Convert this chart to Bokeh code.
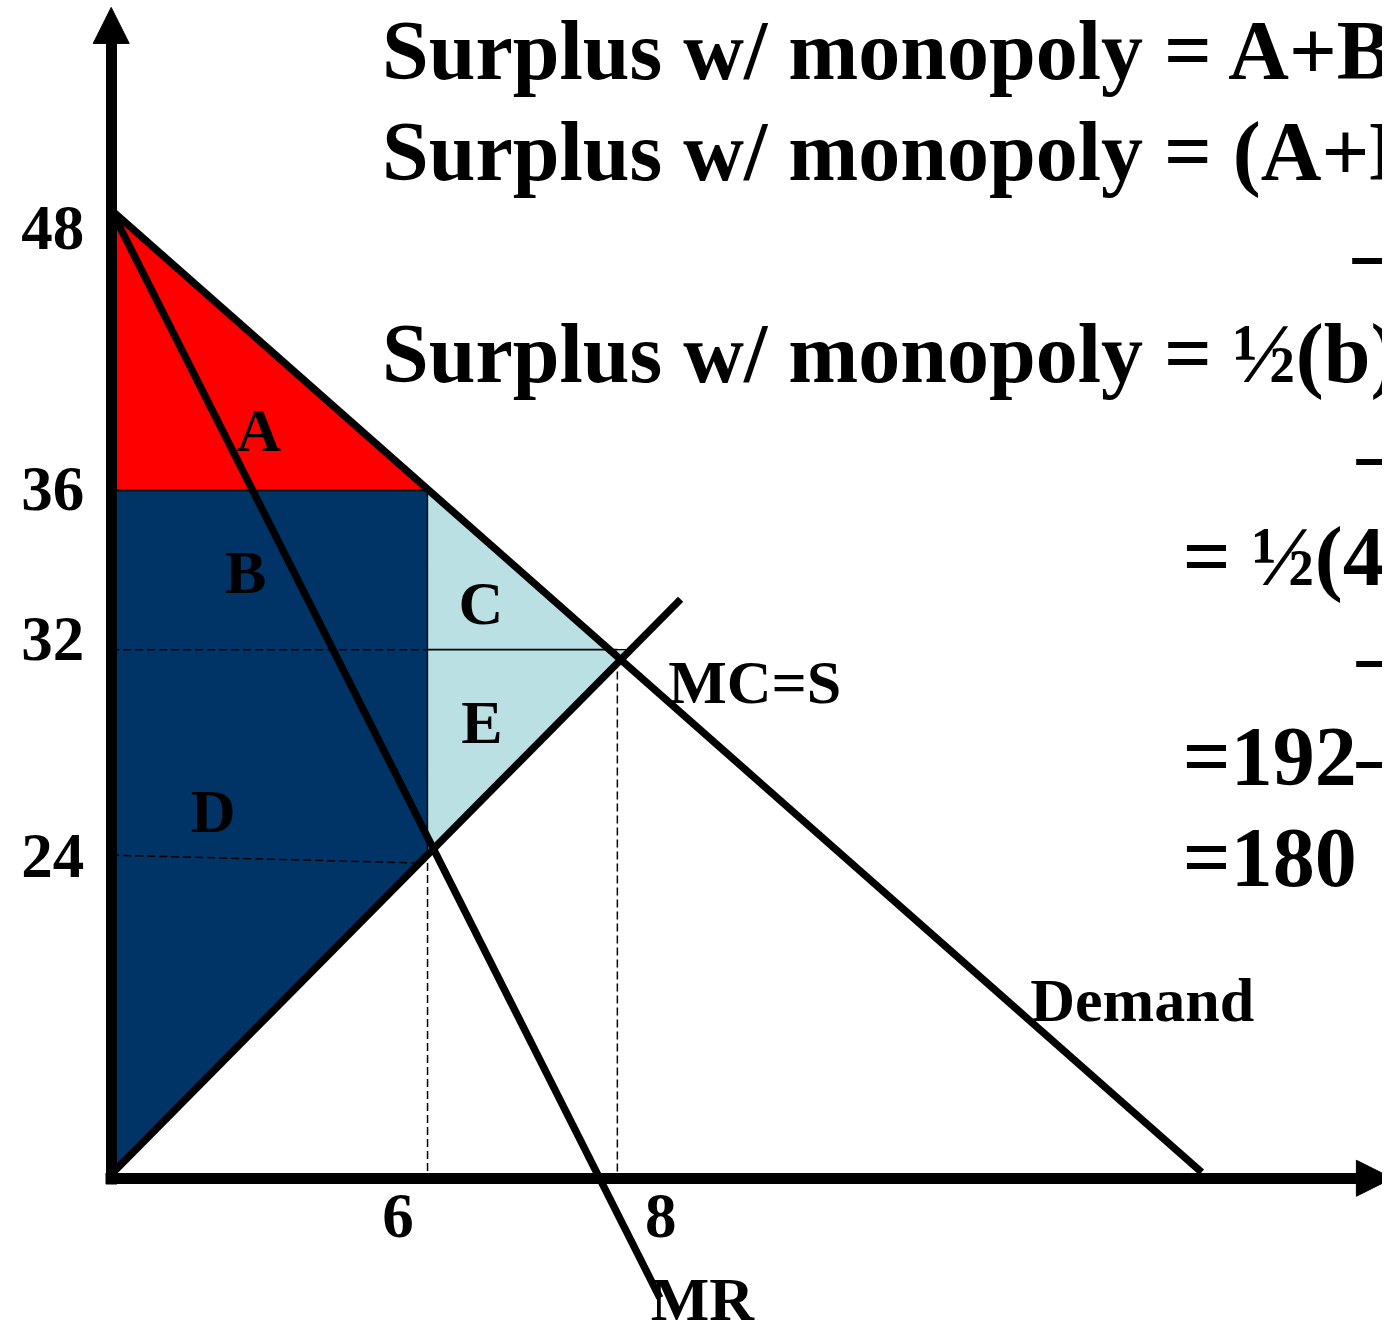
from bokeh.plotting import figure
from bokeh.models import Range1d, LinearAxis, FixedTicker, Arrow, NormalHead
from bokeh.core.properties import value
from bokeh.embed import file_html
from bokeh.resources import INLINE

FONT = value("Liberation Serif")

# ---- schematic drawing units (origin at the axes' corner) ----
# price-axis tick labels and their drawn positions
y_tick_labels = ["48", "36", "32", "24"]
y_tick_pos = [962, 698, 546, 326]
# quantity-axis tick labels and their drawn positions
x_tick_labels = ["6", "8"]
x_tick_pos = [290, 556]

# curves
demand_x = [0, 1103]
demand_y = [980, 6]
mc_x = [0, 576]
mc_y = [4, 586]
mr_x = [0, 555]
mr_y = [980, -121]

# shaded areas
area_a_x = [0, 321, 0]
area_a_y = [980, 696, 696]
area_bd_x = [0, 320, 320, 0]
area_bd_y = [696, 696, 327, 4]
area_ce_x = [320, 504, 522, 516, 320]
area_ce_y = [696, 535, 535, 525, 327]

# guide lines
p32_dash_x = [0, 320]
p32_dash_y = [535, 535]
p32_solid_x = [320, 512]
p32_solid_y = [535, 535]
p24_x = [0, 313]
p24_y = [327, 319]
q6_x = [320, 320]
q6_y = [319, 0]
q8_x = [512, 512]
q8_y = [525, 0]

# area / curve labels
lab_text = ["A", "B", "C", "E", "D", "MC=S", "Demand", "MR"]
lab_x = [149, 136, 374, 375, 103, 651, 1043, 598]
lab_y = [757, 614, 582, 462, 372, 502, 180, -122]

# text block on the right
eq_text = ["Surplus w/ monopoly = A+B",
           "Surplus w/ monopoly = (A+B",
           "\u2013",
           "Surplus w/ monopoly = \u00bd(b)",
           "\u2013",
           "= \u00bd(4",
           "\u2013",
           "=192\u2013",
           "=180"]
eq_x = [274, 274, 1256, 274, 1260, 1084, 1260, 1084, 1084]
eq_y = [1141, 1039, 937, 835, 734, 629, 529, 427, 325]

p = figure(width=1382, height=1323, output_backend="svg", toolbar_location=None,
           x_range=Range1d(-112, 1286), y_range=Range1d(-147, 1192),
           x_axis_location=None, y_axis_location=None, min_border=0,
           outline_line_color=None, tools="")
p.grid.visible = False
p.background_fill_color = "white"

# shaded regions
p.patch(area_a_x, area_a_y, fill_color="#FF0000", line_color="black", line_width=1.5)
p.patch(area_bd_x, area_bd_y, fill_color="#003366", line_color="black", line_width=1.5)
p.patch(area_ce_x, area_ce_y, fill_color="#BBE0E3", line_color="black", line_width=1.2)

# guides
p.line(p32_dash_x, p32_dash_y, line_color="black", line_width=1.5, line_dash="8 4")
p.line(p32_solid_x, p32_solid_y, line_color="black", line_width=1.8)
p.line(p24_x, p24_y, line_color="black", line_width=1.5, line_dash="8 4")
p.line(q6_x, q6_y, line_color="black", line_width=1.5, line_dash="8 4")
p.line(q8_x, q8_y, line_color="black", line_width=1.5, line_dash="8 4")

# curves
for xs, ys in ((demand_x, demand_y), (mc_x, mc_y), (mr_x, mr_y)):
    p.line(xs, ys, line_color="black", line_width=7.4)

# labels
p.text(lab_x, lab_y, text=lab_text, text_font=FONT, text_font_style="bold",
       text_font_size="62px", text_align="center", text_baseline="middle",
       text_color="black")
p.text(eq_x, eq_y, text=eq_text, text_font=FONT, text_font_style="bold",
       text_font_size="84px", text_align="left", text_baseline="middle",
       text_color="black")

# axes
yax = LinearAxis(fixed_location=0, bounds=(-6, 1149),
                 ticker=FixedTicker(ticks=y_tick_pos),
                 major_label_overrides={t: l for t, l in zip(y_tick_pos, y_tick_labels)})
xax = LinearAxis(fixed_location=0, bounds=(-6, 1260),
                 ticker=FixedTicker(ticks=x_tick_pos),
                 major_label_overrides={t: l for t, l in zip(x_tick_pos, x_tick_labels)})
for ax, so in ((yax, 27), (xax, 17)):
    ax.axis_line_width = 11
    ax.axis_line_color = "black"
    ax.major_tick_line_color = None
    ax.minor_tick_line_color = None
    ax.major_tick_out = 0
    ax.major_tick_in = 0
    ax.major_label_standoff = so
    ax.major_label_text_font = "Liberation Serif"
    ax.major_label_text_font_style = "bold"
    ax.major_label_text_font_size = "63px"
    ax.major_label_text_color = "black"
p.add_layout(yax, "left")
p.add_layout(xax, "below")

# arrow heads
p.add_layout(Arrow(end=NormalHead(size=36, fill_color="black", line_color="black", line_width=1),
                   x_start=0, y_start=1100, x_end=0, y_end=1185, line_color=None))
p.add_layout(Arrow(end=NormalHead(size=36, fill_color="black", line_color="black", line_width=1),
                   x_start=1200, y_start=0, x_end=1296, y_end=0, line_color=None))

open("out.html", "w").write(file_html(p, INLINE))
